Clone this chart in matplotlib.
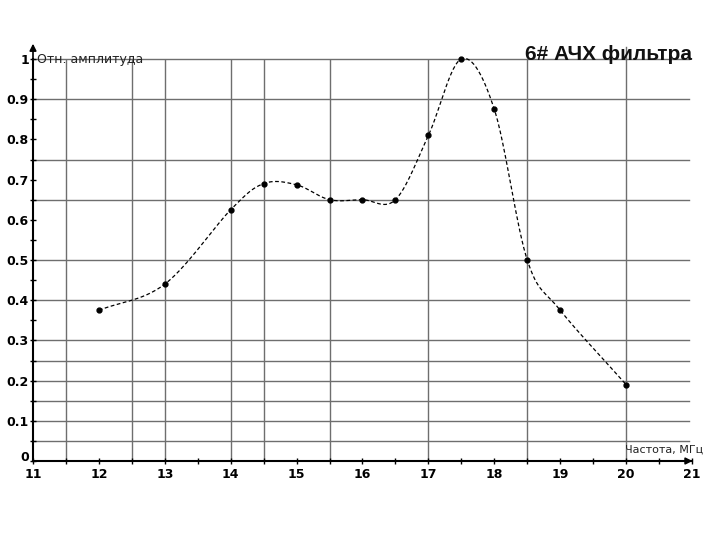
import numpy as np
import matplotlib
matplotlib.use("Agg")
import matplotlib.pyplot as plt
import matplotlib.transforms as mtransforms

# measured points of the filter response
freq = [12, 13, 14, 14.5, 15, 15.5, 16, 16.5, 17, 17.5, 18, 18.5, 19, 20]
ampl = [0.375, 0.44, 0.625, 0.69, 0.687, 0.65, 0.65, 0.65, 0.81, 1.0, 0.875, 0.5, 0.375, 0.19]

x_ticks = list(range(11, 22))
y_ticks = [0, 0.1, 0.2, 0.3, 0.4, 0.5, 0.6, 0.7, 0.8, 0.9, 1]
y_tick_labels = ["0", "0.1", "0.2", "0.3", "0.4", "0.5", "0.6", "0.7", "0.8", "0.9", "1"]
x_grid = [11.5, 12.5, 13, 14, 14.5, 15.5, 17, 18.5, 20]
y_grid = [0.05, 0.1, 0.15, 0.2, 0.25, 0.3, 0.4, 0.5, 0.65, 0.75, 0.9, 1.0]


def smooth(xs, ys, n=30):
    # catmull-rom curve through the points, like the "smoothed line" option
    xs = np.asarray(xs, float)
    ys = np.asarray(ys, float)
    px = np.concatenate([[2 * xs[0] - xs[1]], xs, [2 * xs[-1] - xs[-2]]])
    py = np.concatenate([[2 * ys[0] - ys[1]], ys, [2 * ys[-1] - ys[-2]]])
    outx, outy = [], []
    t = np.linspace(0, 1, n)
    for i in range(1, len(px) - 2):
        for p, out in ((px, outx), (py, outy)):
            p0, p1, p2, p3 = p[i - 1], p[i], p[i + 1], p[i + 2]
            out.extend(0.5 * (2 * p1 + (-p0 + p2) * t
                              + (2 * p0 - 5 * p1 + 4 * p2 - p3) * t ** 2
                              + (-p0 + 3 * p1 - 3 * p2 + p3) * t ** 3))
    return np.array(outx), np.array(outy)


fig = plt.figure(figsize=(7.2, 5.4), dpi=100)
ax = fig.add_axes([33 / 720, 79 / 540, 659 / 720, 402 / 540])
ax.set_xlim(11, 21)
ax.set_ylim(0, 1)

for gx in x_grid:
    ax.plot([gx, gx], [0, 1.0], color="#6e6e6e", lw=1, zorder=1)
ax.plot([20, 20], [1.0, 1.03], color="#6e6e6e", lw=1, zorder=1, clip_on=False)
for gy in y_grid:
    ax.plot([11, 20.95], [gy, gy], color="#6e6e6e", lw=1, zorder=1, clip_on=False)

sx, sy = smooth(freq, ampl)
ax.plot(sx, sy, color="black", lw=0.9, ls=(0, (3, 2)), zorder=3, clip_on=False)
ax.plot(freq, ampl, "o", color="black", ms=3.5, zorder=4, clip_on=False)

for s in ["top", "right"]:
    ax.spines[s].set_visible(False)
for s in ["left", "bottom"]:
    ax.spines[s].set_linewidth(1.5)
    ax.spines[s].set_color("black")

ax.set_xticks(x_ticks)
ax.set_xticklabels([str(v) for v in x_ticks], fontsize=9, fontweight="bold")
ax.set_yticks(y_ticks)
ax.set_yticklabels(y_tick_labels, fontsize=9, fontweight="bold")
ax.set_xticks(np.arange(11, 21.01, 0.5), minor=True)
ax.set_yticks(np.arange(0, 1.001, 0.05), minor=True)
ax.tick_params(which="both", direction="inout", length=4, width=1)
ax.tick_params(axis="y", pad=1)
ax.tick_params(axis="x", pad=3)

# the "0" sits just above the "11", as in the original
zero = ax.get_yticklabels()[0]
zero.set_va("bottom")
zero.set_transform(zero.get_transform() + mtransforms.ScaledTranslation(0, -2 / 72, fig.dpi_scale_trans))

# axis arrows
ax.annotate("", xy=(21.05, 0), xytext=(20.6, 0),
            arrowprops=dict(arrowstyle="-|>", color="black", lw=1.2), annotation_clip=False)
ax.annotate("", xy=(11, 1.045), xytext=(11, 0.95),
            arrowprops=dict(arrowstyle="-|>", color="black", lw=1.2), annotation_clip=False)

ax.text(11.06, 1.0, "Отн. амплитуда", fontsize=9, va="center", ha="left", color="#222222")
ax.text(19.99, 0.028, "Частота, МГц", fontsize=8, va="center", ha="left", color="#222222")
fig.text(692 / 720, 1 - 55 / 540, "6# АЧХ фильтра", fontsize=15, fontweight="bold",
         family="Liberation Sans", ha="right", va="center", color="#111111")

fig.savefig("out.png", dpi=100)
